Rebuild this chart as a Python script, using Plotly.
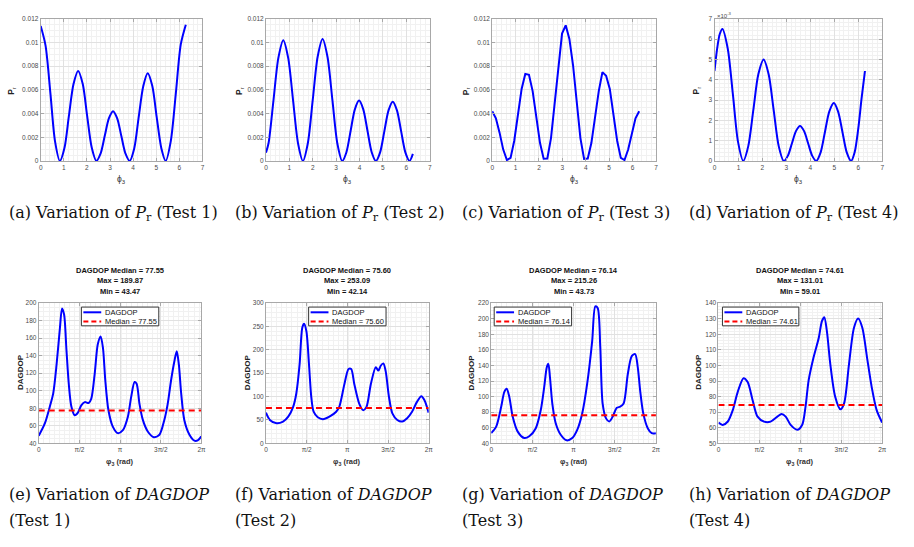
import math
import plotly.graph_objects as go

PI = math.pi

# ---------------- data ----------------
# (a) P_r, Test 1
x_a = [0, 0.21, 0.42, 0.62, 0.83, 1.03, 1.22, 1.42, 1.62, 1.82, 2.01, 2.21, 2.41, 2.59, 2.77, 2.95, 3.13,
       3.31, 3.49, 3.67, 3.85, 4.05, 4.24, 4.44, 4.63, 4.83, 5.02, 5.22, 5.41, 5.63, 5.85, 6.06, 6.28]
y_a = [0.0114, 0.00974, 0.0057, 0.00166, 0, 0.00111, 0.0038, 0.00649, 0.0076, 0.00649, 0.0038, 0.00111, 0,
       0.00061, 0.0021, 0.00359, 0.0042, 0.00359, 0.0021, 0.00061, 0, 0.00108, 0.0037, 0.00632, 0.0074,
       0.00632, 0.0037, 0.00108, 0, 0.00168, 0.00575, 0.00982, 0.0115]
# (b) P_r, Test 2
x_b = [0, 0.11, 0.32, 0.53, 0.74, 0.95, 1.16, 1.37, 1.58, 1.79, 2.0, 2.21, 2.42, 2.63, 2.84, 3.05, 3.26,
       3.44, 3.62, 3.80, 3.98, 4.16, 4.34, 4.52, 4.70, 4.88, 5.06, 5.24, 5.42, 5.60, 5.78, 5.96, 6.14, 6.28]
y_b = [0.0007, 0.0015, 0.0051, 0.0087, 0.0102, 0.0087, 0.0051, 0.0015, 0, 0.0015, 0.00515, 0.0088, 0.0103,
       0.0088, 0.00515, 0.0015, 0, 0.00074, 0.00255, 0.00436, 0.0051, 0.00436, 0.00255, 0.00074, 0,
       0.00073, 0.0025, 0.00427, 0.005, 0.00427, 0.0025, 0.00073, 0, 0.0006]
# (c) P_r, Test 3 (coarse sampling)
x_c = [0, 0.157, 0.314, 0.471, 0.628, 0.785, 0.942, 1.100, 1.257, 1.414, 1.571, 1.728, 1.885, 2.042,
       2.199, 2.356, 2.513, 2.670, 2.827, 2.985, 3.142, 3.299, 3.456, 3.613, 3.770, 3.927, 4.084, 4.241,
       4.398, 4.555, 4.712, 4.869, 5.027, 5.184, 5.341, 5.498, 5.655, 5.812, 5.969, 6.126, 6.283]
y_c = [0.0042, 0.0036, 0.00239, 0.00096, 0.00008, 0.00026, 0.00171, 0.00393, 0.00608, 0.00735, 0.00728,
       0.0059, 0.00372, 0.00153, 0.00019, 0.00021, 0.00193, 0.00487, 0.00808, 0.01075, 0.01145, 0.0103,
       0.00808, 0.00487, 0.00193, 0.00017, 0.00021, 0.00153, 0.00372, 0.0059, 0.0075, 0.0072, 0.00608,
       0.00393, 0.00171, 0.00026, 0.00008, 0.00096, 0.00239, 0.0036, 0.0042]
# (d) P_r, Test 4 (in units of 1e-3)
x_d = [0, 0.11, 0.22, 0.33, 0.55, 0.77, 0.98, 1.2, 1.41, 1.62, 1.83, 2.05, 2.26, 2.47, 2.68, 2.89, 3.06,
       3.23, 3.40, 3.57, 3.74, 3.91, 4.08, 4.25, 4.43, 4.61, 4.79, 4.98, 5.16, 5.34, 5.52, 5.70, 5.85,
       6.0, 6.14, 6.28]
y_d = [4.43, 5.53, 6.25, 6.5, 5.55, 3.25, 0.95, 0, 0.73, 2.5, 4.27, 5.0, 4.27, 2.5, 0.73, 0, 0.25, 0.86,
       1.47, 1.72, 1.47, 0.86, 0.25, 0, 0.42, 1.43, 2.43, 2.85, 2.43, 1.43, 0.42, 0, 0.43, 1.59, 3.09, 4.43]

# (e)-(h) DAGDOP
x_e = [0, 0.24, 0.43, 0.56, 0.69, 0.82, 0.90, 0.98, 1.07, 1.16, 1.26, 1.39, 1.49, 1.65, 1.78, 1.93, 2.03,
       2.16, 2.28, 2.39, 2.48, 2.57, 2.69, 2.86, 3.05, 3.25, 3.44, 3.57, 3.70, 3.78, 3.89, 4.02, 4.21,
       4.44, 4.66, 4.85, 4.98, 5.11, 5.24, 5.33, 5.41, 5.50, 5.62, 5.82, 6.01, 6.14, 6.28]
y_e = [48.6, 63, 82, 97, 130, 172, 194, 187, 147, 108, 82, 72, 74, 83.6, 87, 86, 91, 119, 153, 162, 149,
       112, 78, 59, 51.6, 55, 70, 93, 110, 108, 85, 66.7, 53.5, 47, 49.8, 66.7, 85, 112, 134, 145, 130,
       97, 66.7, 49.8, 43, 43.4, 47.9]
x_f = [0, 0.15, 0.41, 0.66, 0.86, 1.05, 1.17, 1.30, 1.40, 1.47, 1.56, 1.66, 1.75, 1.84, 2.0, 2.2, 2.45,
       2.71, 2.83, 3.03, 3.19, 3.29, 3.41, 3.6, 3.75, 3.88, 4.05, 4.24, 4.34, 4.43, 4.53, 4.62, 4.75,
       4.88, 5.07, 5.26, 5.45, 5.64, 5.83, 6.0, 6.12, 6.28]
y_f = [65.5, 50, 43, 46.5, 57, 78, 106, 170, 247, 256, 240, 170, 99, 67.6, 55.6, 51.4, 57, 67.6, 78, 127,
       159, 159, 127, 85, 71, 78, 127, 163, 155.6, 166, 171, 155, 99, 64, 50, 46.5, 53.5, 67.6, 88.7,
       100.7, 92, 65.5]
x_g = [0, 0.19, 0.38, 0.5, 0.59, 0.69, 0.82, 1.01, 1.26, 1.45, 1.7, 1.89, 2.02, 2.12, 2.18, 2.24, 2.33,
       2.46, 2.65, 2.88, 3.09, 3.28, 3.47, 3.66, 3.85, 3.97, 4.06, 4.16, 4.25, 4.38, 4.5, 4.63, 4.79, 4.92,
       5.05, 5.21, 5.36, 5.49, 5.59, 5.68, 5.8, 5.97, 6.12, 6.28]
y_g = [53.1, 61.5, 86.9, 106, 110, 99.6, 74, 55, 46.8, 49, 59.4, 82.7, 112, 137.6, 142, 125, 91, 65.8, 51,
       43.8, 46.8, 57.3, 78.4, 116.6, 171, 215.7, 213.6, 163, 91, 72, 68, 74, 85.6, 87, 91, 129, 152,
       154.5, 137.6, 108, 78.4, 59.4, 53, 53]
x_h = [0, 0.16, 0.36, 0.55, 0.74, 0.96, 1.12, 1.31, 1.5, 1.75, 2.0, 2.26, 2.42, 2.58, 2.77, 3.02, 3.21,
       3.34, 3.46, 3.65, 3.85, 3.97, 4.06, 4.16, 4.29, 4.48, 4.68, 4.82, 5.01, 5.20, 5.36, 5.52, 5.70,
       5.88, 6.07, 6.28]
y_h = [63.3, 61.8, 64, 71.3, 83, 91.8, 89.3, 77.7, 67.1, 63.9, 63.9, 67.1, 68.8, 67.1, 61.8, 58.7, 61.8,
       73.4, 90.4, 105.2, 117.8, 128.4, 130.9, 122, 101, 79.8, 71.8, 75.6, 101, 124.2, 130.1, 124.2,
       105.2, 86.1, 71.3, 63.3]

medians = [77.55, 75.60, 76.14, 74.61]
maxima = [189.87, 253.09, 215.26, 131.01]
minima = [43.47, 42.14, 43.73, 59.01]
tests = ["Test 1", "Test 2", "Test 3", "Test 4"]
letters_top = ["a", "b", "c", "d"]
letters_bot = ["e", "f", "g", "h"]

pr_yticks = [0, 0.002, 0.004, 0.006, 0.008, 0.01, 0.012]
pr_ytext = ["0", "0.002", "0.004", "0.006", "0.008", "0.01", "0.012"]
rad_ticks = [0, PI / 2, PI, 3 * PI / 2, 2 * PI]
rad_text = ["0", "π/2", "π", "3π/2", "2π"]

# ---------------- layout helpers ----------------
W, H = 914, 547
def px(x):
    return x / W
def py(y):
    return 1 - y / H

top_boxes = [(39, 202, 15, 159), (266, 431, 15, 159), (494, 659, 15, 159), (718, 887, 15, 159)]
bot_boxes = [(37, 201, 303, 445), (266, 430, 303, 445), (493, 659, 303, 445), (722, 887, 303, 445)]

SANS = "Liberation Sans, Arial, sans-serif"
SERIF = "DejaVu Serif, serif"
LINE_C = "#a8a8a8"
GRID_C = "#e1e1e1"
MINOR_C = "#f1f1f1"
TICK_C = "#4a4a4a"
CAP_SIZE = 16

def axis(box, horiz, rng, anchor, **kw):
    x0, x1, y0, y1 = box
    dom = [px(x0), px(x1)] if horiz else [py(y1), py(y0)]
    d = dict(domain=dom, range=rng, anchor=anchor, showline=True, linecolor=LINE_C, linewidth=1,
             mirror="ticks", ticks="inside", ticklen=3, tickcolor=LINE_C, showgrid=True,
             gridcolor=GRID_C, gridwidth=1, zeroline=False,
             tickfont=dict(size=6.5, color=TICK_C, family=SANS))
    d.update(kw)
    return d

def note(x, y, text, size, color="#111", family=SANS, xanchor="center", angle=0):
    return dict(x=px(x), y=py(y), xref="paper", yref="paper", showarrow=False, text=text,
                xanchor=xanchor, yanchor="middle", textangle=angle,
                font=dict(size=size, color=color, family=family))

fig = go.Figure()
layout = dict(width=W, height=H, margin=dict(l=0, r=0, t=0, b=0), autosize=False,
              paper_bgcolor="white", plot_bgcolor="white", showlegend=False)
annotations = []
shapes = []

top_x = [x_a, x_b, x_c, x_d]
top_y = [y_a, y_b, y_c, y_d]
bot_x = [x_e, x_f, x_g, x_h]
bot_y = [y_e, y_f, y_g, y_h]
bot_ranges = [[40, 200], [0, 300], [40, 220], [50, 140]]
bot_dticks = [20, 50, 20, 10]
bot_minor = [5, 10, 5, 2]
cap_x = [5, 233, 462, 690]
ylab_top = [10, 240, 468, 700]
ylab_bot = [18, 247, 473, 702]

for i in range(4):
    n = i + 1
    xs = "" if n == 1 else str(n)
    box = top_boxes[i]
    if i < 3:
        yk = dict(tickmode="array", tickvals=pr_yticks, ticktext=pr_ytext,
                  minor=dict(dtick=0.0005, tick0=0, showgrid=True, gridcolor=MINOR_C, gridwidth=1))
        yr = [0, 0.012]
    else:
        yk = dict(dtick=1, tick0=0,
                  minor=dict(dtick=0.2, tick0=0, showgrid=True, gridcolor=MINOR_C, gridwidth=1))
        yr = [0, 7]
    layout["xaxis" + xs] = axis(box, True, [0, 7], "y" + xs, dtick=1, tick0=0,
                                minor=dict(dtick=0.2, tick0=0, showgrid=True, gridcolor=MINOR_C, gridwidth=1))
    layout["yaxis" + xs] = axis(box, False, yr, "x" + xs, **yk)
    fig.add_trace(go.Scatter(x=top_x[i], y=top_y[i], mode="lines", xaxis="x" + xs, yaxis="y" + xs,
                             line=dict(color="#0000ff", width=2,
                                       shape="linear" if i == 2 else "spline", smoothing=0.8)))
    cx = (box[0] + box[1]) / 2
    annotations.append(note(cx, 178, "ϕ<sub>3</sub>", 8.5, "#333"))
    annotations.append(note(ylab_top[i], 88, "<b>P</b><sub>r</sub>", 8.5, "#222", angle=-90))
    annotations.append(note(cap_x[i], 212,
                            "(%s) Variation of <i>P</i><sub>r</sub> (%s)" % (letters_top[i], tests[i]),
                            CAP_SIZE, family=SERIF, xanchor="left"))

annotations.append(note(718, 11, "×10<sup>-3</sup>", 6, TICK_C, xanchor="left"))

leg_x0 = [80, 309, 496, 726]
leg_x1 = [158, 387, 574, 803]

for i in range(4):
    n = i + 5
    xs = str(n)
    box = bot_boxes[i]
    layout["xaxis" + xs] = axis(box, True, [0, 2 * PI], "y" + xs, tickmode="array", tickvals=rad_ticks,
                                ticktext=rad_text,
                                minor=dict(tickmode="linear", dtick=0.2, tick0=0, showgrid=True,
                                           gridcolor=MINOR_C, gridwidth=1))
    layout["yaxis" + xs] = axis(box, False, bot_ranges[i], "x" + xs, dtick=bot_dticks[i], tick0=0,
                                minor=dict(dtick=bot_minor[i], tick0=0, showgrid=True,
                                           gridcolor=MINOR_C, gridwidth=1))
    fig.add_trace(go.Scatter(x=bot_x[i], y=bot_y[i], mode="lines", xaxis="x" + xs, yaxis="y" + xs,
                             line=dict(color="#0000ff", width=2, shape="spline", smoothing=0.8)))
    fig.add_trace(go.Scatter(x=[0, 2 * PI], y=[medians[i], medians[i]], mode="lines",
                             xaxis="x" + xs, yaxis="y" + xs,
                             line=dict(color="#ff0000", width=2, dash="6px,4px")))
    cx = (box[0] + box[1]) / 2
    for k, t in enumerate(["DAGDOP Median = %.2f" % medians[i], "Max = %.2f" % maxima[i],
                           "Min = %.2f" % minima[i]]):
        annotations.append(note(cx, 270 + 10.5 * k, "<b>%s</b>" % t, 7.5))
    annotations.append(note(cx, 464, "<b>φ<sub>3</sub> (rad)</b>", 7.5, "#333"))
    annotations.append(note(ylab_bot[i], 373, "<b>DAGDOP</b>", 8, "#222", angle=-90))
    # legend (drawn manually, MATLAB style)
    lx0, lx1 = leg_x0[i], leg_x1[i]
    shapes.append(dict(type="rect", xref="paper", yref="paper", x0=px(lx0), x1=px(lx1), y0=py(326), y1=py(307),
                       line=dict(color="#333", width=1), fillcolor="white", layer="above"))
    shapes.append(dict(type="line", xref="paper", yref="paper", x0=px(lx0 + 2), x1=px(lx0 + 20),
                       y0=py(312.3), y1=py(312.3), line=dict(color="#0000ff", width=2), layer="above"))
    shapes.append(dict(type="line", xref="paper", yref="paper", x0=px(lx0 + 2), x1=px(lx0 + 20),
                       y0=py(321.5), y1=py(321.5), line=dict(color="#ff0000", width=2, dash="5px,3px"),
                       layer="above"))
    annotations.append(note(lx0 + 22, 312.3, "DAGDOP", 7.5, xanchor="left"))
    annotations.append(note(lx0 + 22, 321.5, "Median = %.2f" % medians[i], 7.5, xanchor="left"))
    annotations.append(note(cap_x[i], 497, "(%s) Variation of <i>DAGDOP</i>" % letters_bot[i],
                            CAP_SIZE, family=SERIF, xanchor="left"))
    annotations.append(note(cap_x[i], 523, "(%s)" % tests[i], CAP_SIZE, family=SERIF, xanchor="left"))

layout["annotations"] = annotations
layout["shapes"] = shapes
fig.update_layout(**layout)
fig.write_html("out.html")
